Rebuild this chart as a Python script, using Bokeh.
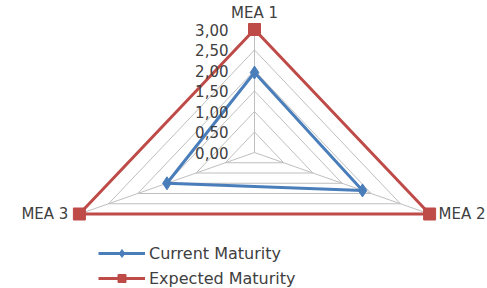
import math
from bokeh.plotting import figure
from bokeh.models import Range1d, Legend, LegendItem, ColumnDataSource
from bokeh.core.properties import value
from bokeh.embed import file_html
from bokeh.resources import INLINE

categories = ["MEA 1", "MEA 2", "MEA 3"]
current = [1.95, 1.85, 1.5]
expected = [3.0, 3.0, 3.0]
tick_values = [0.0, 0.5, 1.0, 1.5, 2.0, 2.5, 3.0]
tick_labels = ["0,00", "0,50", "1,00", "1,50", "2,00", "2,50", "3,00"]

angles = [0.0, 2 * math.pi / 3, 4 * math.pi / 3]

def px(r, a):
    return r * math.sin(a)

def py(r, a):
    return r * math.cos(a)

FONT = "DejaVu Sans"
TXT = "#404040"
BLUE = "#4A7EBB"
RED = "#BE4B48"
GRID = "#BFBFBF"

W, H = 487, 288
sx, sy = 67.4, 41.0
cx, cy = 254, 152
p = figure(width=W, height=H, output_backend="svg", toolbar_location=None,
           x_range=Range1d(-cx / sx, (W - cx) / sx),
           y_range=Range1d(-(H - cy) / sy, cy / sy),
           min_border=0, outline_line_color=None)
p.axis.visible = False
p.grid.visible = False
p.background_fill_color = "white"

# grid triangles
gx, gy = [], []
for t in tick_values[1:]:
    gx.append([px(t, a) for a in angles] + [px(t, angles[0])])
    gy.append([py(t, a) for a in angles] + [py(t, angles[0])])
# spokes
rmax = tick_values[-1]
for a in angles:
    gx.append([0, px(rmax, a)])
    gy.append([0, py(rmax, a)])
p.multi_line(gx, gy, line_color=GRID, line_width=1)

def closed(vals):
    xs = [px(v, a) for v, a in zip(vals, angles)]
    ys = [py(v, a) for v, a in zip(vals, angles)]
    return xs, ys

ex, ey = closed(expected)
r_el = p.line(ex + [ex[0]], ey + [ey[0]], line_color=RED, line_width=3)
r_em = p.scatter(ex, ey, marker="square", size=12, fill_color=RED, line_color=RED)

cxs, cys = closed(current)
r_cl = p.line(cxs + [cxs[0]], cys + [cys[0]], line_color=BLUE, line_width=3)
r_cm = p.scatter(cxs, cys, marker="diamond", size=13, fill_color=BLUE, line_color=BLUE)

# tick labels
p.text(x=[0] * len(tick_values), y=tick_values, text=tick_labels,
       x_offset=-26, text_align="right", text_baseline="middle",
       text_font=value(FONT), text_font_size="15px", text_color=TXT)

# category labels
lx = [px(rmax, a) for a in angles]
ly = [py(rmax, a) for a in angles]
src = ColumnDataSource(dict(x=lx, y=ly, t=categories,
                            xo=[0, 9, -11], yo=[-17, 0, 0],
                            al=["center", "left", "right"]))
p.text(x="x", y="y", text="t", source=src, x_offset="xo", y_offset="yo",
       text_align="al", text_baseline="middle",
       text_font=value(FONT), text_font_size="15px", text_color=TXT)

legend = Legend(items=[LegendItem(label="Current Maturity", renderers=[r_cl, r_cm]),
                       LegendItem(label="Expected Maturity", renderers=[r_el, r_em])],
                location=(98, 0), orientation="vertical",
                glyph_width=47, glyph_height=20, label_height=20, spacing=5,
                label_standoff=4, padding=0, margin=0,
                border_line_color=None, background_fill_alpha=0,
                label_text_font="DejaVu Sans", label_text_font_size="16px",
                label_text_color=TXT)
p.add_layout(legend)

open("out.html", "w").write(file_html(p, INLINE))
